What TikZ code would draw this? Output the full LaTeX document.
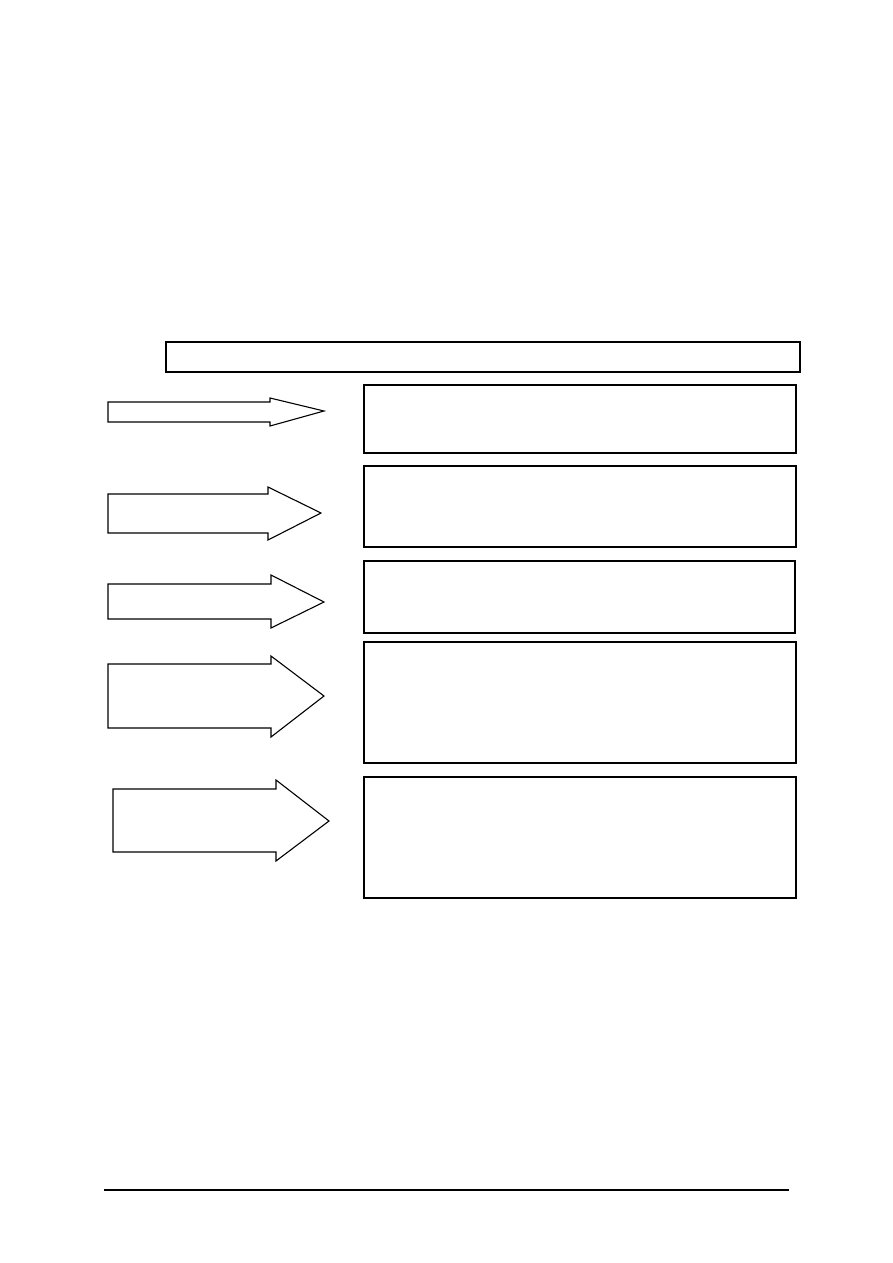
\documentclass[tikz,border=0pt]{standalone}
\begin{document}
\begin{tikzpicture}[x=1pt,y=-1pt,
  frame/.style={draw=black,line width=1.2pt,fill=white},
  blockarrow/.style={draw=black,line width=1.1pt,fill=white,line join=miter}]
\useasboundingbox[fill=white] (0,0) rectangle (893,1263);
% boxes
\draw[frame] (166,342) rectangle (800,372);
\draw[frame] (364,385) rectangle (796,453);
\draw[frame] (364,466) rectangle (796,547);
\draw[frame] (364,561) rectangle (795,633);
\draw[frame] (364,642) rectangle (796,763);
\draw[frame] (364,777) rectangle (796,898);
% block arrows
\draw[blockarrow] (108,402) -- (270,402) -- (270,398) -- (324,411) -- (270,426) -- (270,422) -- (108,422) -- cycle;
\draw[blockarrow] (108,494) -- (268,494) -- (268,487) -- (321,513) -- (268,540) -- (268,533) -- (108,533) -- cycle;
\draw[blockarrow] (108,584) -- (271,584) -- (271,575) -- (324,602) -- (271,628) -- (271,619) -- (108,619) -- cycle;
\draw[blockarrow] (108,664) -- (271,664) -- (271,656) -- (324,696) -- (271,737) -- (271,728) -- (108,728) -- cycle;
\draw[blockarrow] (113,789) -- (276,789) -- (276,780) -- (329,821) -- (276,861) -- (276,852) -- (113,852) -- cycle;
% footer rule
\draw[line width=1.2pt] (104,1190) -- (789,1190);
\end{tikzpicture}
\end{document}
